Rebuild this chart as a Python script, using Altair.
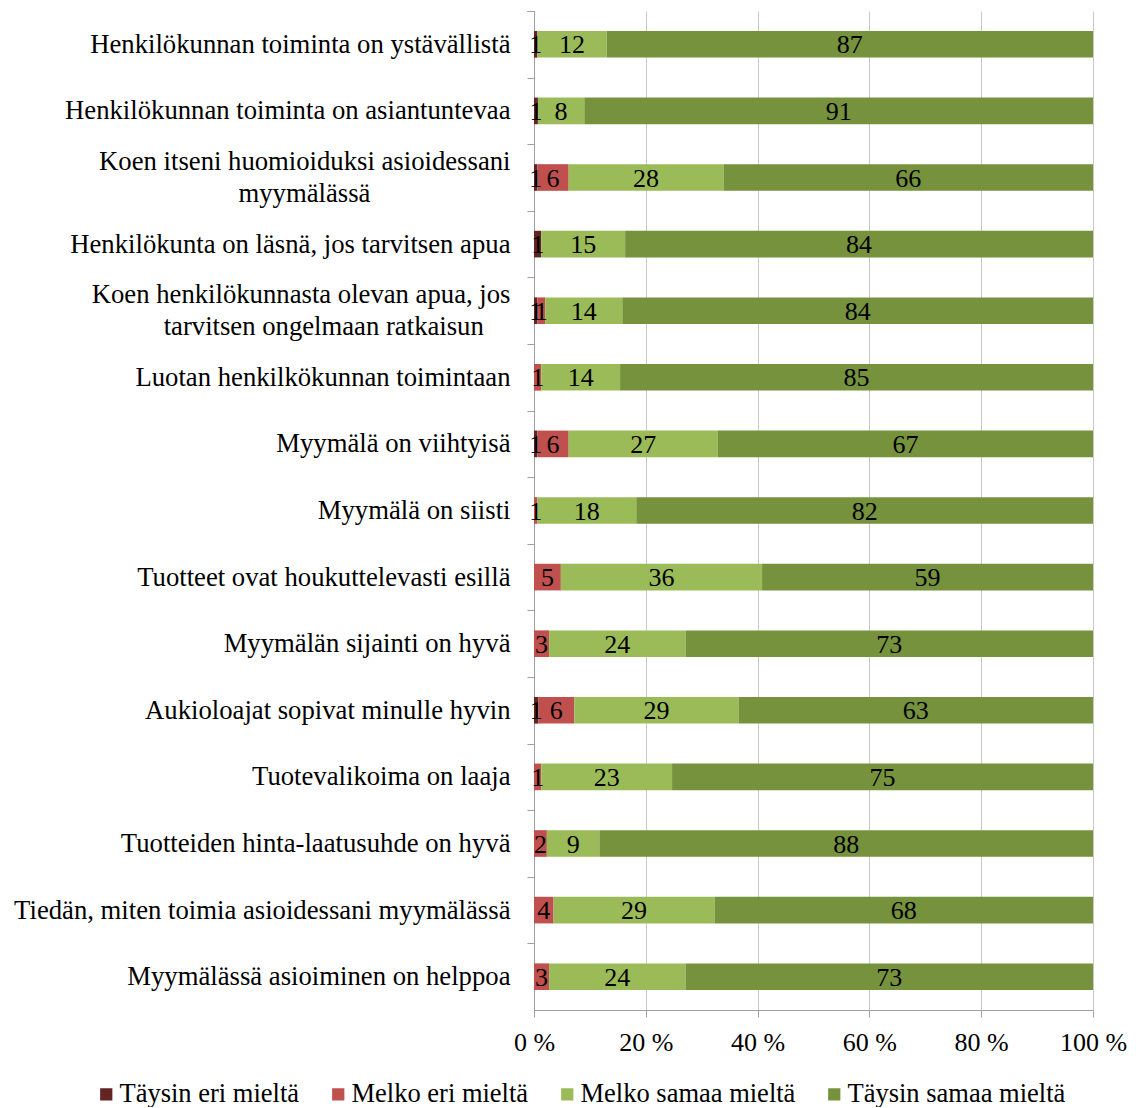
import altair as alt
import pandas as pd

NB = "\u00a0"
ZW = "\u200b"
categories = [
    "Henkilökunnan toiminta on ystävällistä",
    "Henkilökunnan toiminta on asiantuntevaa",
    "Koen itseni huomioiduksi asioidessani|myymälässä" + NB * 21 + ZW,
    "Henkilökunta on läsnä, jos tarvitsen apua",
    "Koen henkilökunnasta olevan apua, jos|tarvitsen ongelmaan ratkaisun" + NB * 4 + ZW,
    "Luotan henkilkökunnan toimintaan",
    "Myymälä on viihtyisä",
    "Myymälä on siisti",
    "Tuotteet ovat houkuttelevasti esillä",
    "Myymälän sijainti on hyvä",
    "Aukioloajat sopivat minulle hyvin",
    "Tuotevalikoima on laaja",
    "Tuotteiden hinta-laatusuhde on hyvä",
    "Tiedän, miten toimia asioidessani myymälässä",
    "Myymälässä asioiminen on helppoa",
]

series = ["Täysin eri mieltä", "Melko eri mieltä", "Melko samaa mieltä", "Täysin samaa mieltä"]
colors = ["#632423", "#C0504D", "#9BBB59", "#76923C"]

taysin_eri = [0.6, 0.7, 0.6, 1.3, 0.6, 0.0, 0.6, 0.0, 0.0, 0.0, 0.8, 0.0, 0.0, 0.0, 0.0]
melko_eri = [0.0, 0.0, 5.6, 0.0, 1.4, 1.3, 5.6, 0.6, 4.8, 2.7, 6.4, 1.3, 2.3, 3.5, 2.7]
melko_samaa = [12.4, 8.3, 27.7, 15.0, 13.8, 14.1, 26.7, 17.7, 36.0, 24.4, 29.4, 23.4, 9.4, 28.8, 24.4]
taysin_samaa = [87.0, 91.0, 66.1, 83.7, 84.2, 84.6, 67.1, 81.7, 59.2, 72.9, 63.4, 75.3, 88.3, 67.7, 72.9]

all_vals = [taysin_eri, melko_eri, melko_samaa, taysin_samaa]
rows = []
for i, c in enumerate(categories):
    for j, s in enumerate(series):
        v = all_vals[j][i]
        if v > 0:
            rows.append({"cat": c, "series": s, "ord": j, "value": v})
df = pd.DataFrame(rows)

FONT = "Liberation Serif"
FS = 26
YFS = 26.7
H = 999
STEP = H / len(categories)
PAD_IN = 0.6
HALF_GAP = STEP * PAD_IN / 2

base = alt.Chart(df).transform_stack(
    stack="value", groupby=["cat"], as_=["v0", "v1"], offset="normalize",
    sort=[alt.SortField("ord", order="ascending")]
).transform_calculate(mid="(datum.v0 + datum.v1) / 2")

label_expr = (
    "indexof(datum.label, '|') >= 0 ? "
    "[split(datum.label, '|')[0], '" + ZW + "', split(datum.label, '|')[1]] : ['', datum.label]"
)

yenc = alt.Y(
    "cat:N", sort=categories,
    scale=alt.Scale(paddingInner=PAD_IN, paddingOuter=PAD_IN / 2),
    axis=alt.Axis(
        title=None, labelExpr=label_expr, labelFont=FONT,
        labelFontSize=YFS, labelColor="black", labelLineHeight=16,
        bandPosition=0, tickOffset=-HALF_GAP, tickExtra=True,
        labelOffset=HALF_GAP - 16,
        tickSize=7, tickColor="#A0A0A0", domainColor="#A0A0A0",
        labelPadding=17, labelLimit=1000, grid=False,
    ),
)

bars = base.mark_bar().encode(
    x=alt.X(
        "v0:Q", scale=alt.Scale(domain=[0, 1]),
        axis=alt.Axis(
            title=None, values=[0, 0.2, 0.4, 0.6, 0.8, 1.0],
            labelExpr="round(datum.value * 100) + ' %'", labelFont=FONT,
            labelFontSize=FS, labelColor="black", grid=True, gridColor="#C8C8C8",
            tickSize=7, tickColor="#A0A0A0", domainColor="#A0A0A0", labelPadding=12,
            labelFlush=False,
        ),
    ),
    x2="v1:Q",
    y=yenc,
    color=alt.Color(
        "series:N", scale=alt.Scale(domain=series, range=colors),
        legend=alt.Legend(
            title=None, orient="none", legendX=-441, legendY=1070,
            direction="horizontal", columns=4, symbolType="square",
            symbolSize=150, symbolStrokeWidth=0, labelFont=FONT, labelFontSize=26.5,
            labelColor="black", labelLimit=1000, columnPadding=25, labelOffset=0,
        ),
    ),
    order=alt.Order("ord:Q"),
)

labels = base.mark_text(
    font=FONT, fontSize=FS, color="black", baseline="middle", align="center", dy=1
).encode(
    x=alt.X("mid:Q"),
    y=alt.Y("cat:N", sort=categories),
    text=alt.Text("value:Q", format=".0f"),
)

chart = alt.layer(bars, labels).properties(
    width=559, height=H,
    autosize=alt.AutoSizeParams(type="none"),
    padding={"left": 526, "top": 3, "right": 35, "bottom": 97},
).configure_view(stroke=None)

chart.save("out.html", embed_options={"renderer": "svg", "actions": False})
